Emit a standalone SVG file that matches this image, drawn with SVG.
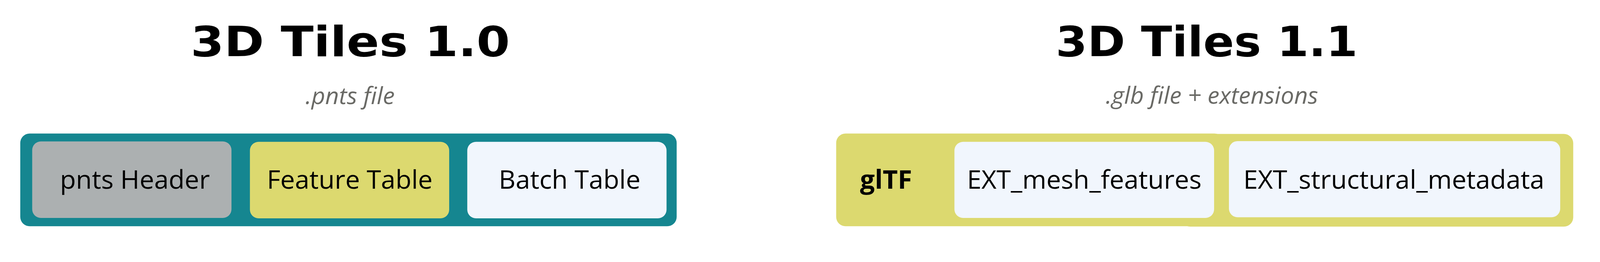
<svg xmlns="http://www.w3.org/2000/svg" width="4424" height="672" viewBox="0 0 4424 672" style="max-width:100%;height:auto">
  <style>
    .title { font-family: "DejaVu Sans", "Liberation Sans", sans-serif; font-weight: bold; font-size: 115px; fill: #000000; }
    .sub { font-family: "Open Sans", "Liberation Sans", sans-serif; font-style: italic; font-size: 66px; fill: #6a6a66; }
    .label { font-family: "Open Sans", "Liberation Sans", sans-serif; font-size: 72px; fill: #000000; text-anchor: middle; }
    .bold { font-weight: bold; }
    .teal { fill: #158690; }
    .yellow { fill: #dcd96f; }
    .gray { fill: #acb0b1; }
    .light { fill: #f1f6fd; }
  </style>
  <rect width="4424" height="672" fill="#ffffff"/>

  <g id="left-title">
    <text class="title" x="527" y="156" textLength="883" lengthAdjust="spacingAndGlyphs">3D Tiles 1.0</text>
    <text class="sub" x="968" y="289" text-anchor="middle">.pnts file</text>
  </g>

  <g id="pnts-file">
    <rect class="teal" x="56" y="370" width="1815" height="257" rx="26" ry="26"/>
  </g>
  <g id="pnts-header">
    <rect class="gray" x="89" y="392" width="551" height="212" rx="24" ry="24"/>
    <text class="label" x="373" y="523">pnts Header</text>
  </g>
  <g id="feature-table">
    <rect class="yellow" x="691" y="393" width="551" height="212" rx="24" ry="24"/>
    <text class="label" x="967" y="523">Feature Table</text>
  </g>
  <g id="batch-table">
    <rect class="light" x="1292" y="393" width="551" height="212" rx="24" ry="24"/>
    <text class="label" x="1575" y="523">Batch Table</text>
  </g>

  <g id="right-title">
    <text class="title" x="2919" y="156" textLength="835" lengthAdjust="spacingAndGlyphs">3D Tiles 1.1</text>
    <text class="sub" x="3351" y="287" text-anchor="middle">.glb file + extensions</text>
  </g>

  <g id="gltf">
    <rect class="yellow" x="2312" y="370" width="1072" height="257" rx="26" ry="26"/>
    <rect class="yellow" x="3265" y="371" width="1085" height="257" rx="26" ry="26"/>
    <text class="label bold" x="2450" y="523">glTF</text>
  </g>
  <g id="ext-mesh-features">
    <rect class="light" x="2639" y="393" width="718" height="211" rx="24" ry="24"/>
    <text class="label" x="2998" y="523">EXT_mesh_features</text>
  </g>
  <g id="ext-structural-metadata">
    <rect class="light" x="3398" y="391" width="916" height="211" rx="24" ry="24"/>
    <text class="label" x="3854" y="523">EXT_structural_metadata</text>
  </g>

  <g id="connectors"></g>
</svg>
